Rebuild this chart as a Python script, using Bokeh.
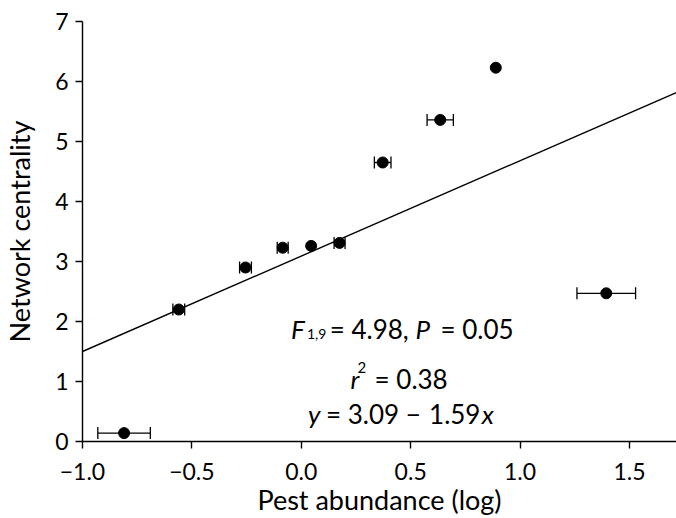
from bokeh.plotting import figure
from bokeh.models import (Range1d, FixedTicker, Whisker, TeeHead, ColumnDataSource,
                          Label, CustomJSTickFormatter)
from bokeh.embed import file_html
from bokeh.resources import INLINE

# ---- data ----
pest_abundance = [-0.81, -0.56, -0.255, -0.085, 0.045, 0.175, 0.372, 0.635, 0.889, 1.394]
centrality     = [0.14, 2.20, 2.90, 3.23, 3.26, 3.31, 4.65, 5.36, 6.23, 2.47]
x_error        = [0.12, 0.027, 0.027, 0.025, 0.0, 0.025, 0.038, 0.06, 0.0, 0.134]
y_error        = [0.0, 0.0, 0.0, 0.0, 0.06, 0.05, 0.0, 0.0, 0.06, 0.0]
fit_intercept = 3.09
fit_slope = 1.59
x_ticks = [-1.0, -0.5, 0.0, 0.5, 1.0, 1.5]
y_ticks = [0, 1, 2, 3, 4, 5, 6, 7]
x_title = "Pest abundance (log)"
y_title = "Network centrality"

FONT = "Lato"
X0, X1 = -1.0, 1.715
Y0, Y1 = 0.0, 7.0

p = figure(width=676, height=518, output_backend="svg", toolbar_location=None,
           x_range=Range1d(X0, X1), y_range=Range1d(Y0, Y1),
           min_border_left=81, min_border_right=0, min_border_top=21,
           min_border_bottom=76)
p.outline_line_color = None
p.grid.visible = False
p.background_fill_color = "white"
p.border_fill_color = "white"

for ax in (p.xaxis[0], p.yaxis[0]):
    ax.axis_line_color = "black"
    ax.axis_line_width = 1.4
    ax.major_tick_line_color = "black"
    ax.major_tick_line_width = 1.4
    ax.major_tick_out = 7
    ax.major_tick_in = 0
    ax.minor_tick_line_color = None
    ax.major_label_text_font = FONT
    ax.major_label_text_font_size = "23px"
    ax.major_label_text_color = "black"
    ax.axis_label_text_font = FONT
    ax.axis_label_text_font_size = "27px"
    ax.axis_label_text_font_style = "normal"
    ax.axis_label_text_color = "black"

p.xaxis.ticker = FixedTicker(ticks=x_ticks)
p.xaxis.formatter = CustomJSTickFormatter(
    code="return tick < 0 ? '\u2212' + (-tick).toFixed(1) : tick.toFixed(1);")
p.xaxis.major_label_standoff = 14
p.xaxis.axis_label = x_title
p.xaxis.axis_label_standoff = 0

p.yaxis.ticker = FixedTicker(ticks=y_ticks)
p.yaxis.formatter = CustomJSTickFormatter(code="return tick.toFixed(0);")
p.yaxis.major_label_standoff = 7
p.yaxis.axis_label = y_title
p.yaxis.axis_label_standoff = 16

# regression line
line_x = [X0, X1]
line_y = [fit_intercept + fit_slope * v for v in line_x]
p.line(line_x, line_y, line_color="black", line_width=1.4)

# horizontal error bars
xs = [v for v, e in zip(pest_abundance, x_error) if e > 0]
ys = [v for v, e in zip(centrality, x_error) if e > 0]
xe = [e for e in x_error if e > 0]
src_x = ColumnDataSource(dict(y=ys, lo=[a - e for a, e in zip(xs, xe)],
                              hi=[a + e for a, e in zip(xs, xe)]))
wx = Whisker(source=src_x, base="y", lower="lo", upper="hi", dimension="width",
             line_color="black", line_width=1.3,
             upper_head=TeeHead(size=12, line_color="black", line_width=1.3),
             lower_head=TeeHead(size=12, line_color="black", line_width=1.3))
wx.level = "underlay"
p.add_layout(wx)

# vertical error bars
xv = [v for v, e in zip(pest_abundance, y_error) if e > 0]
yv = [v for v, e in zip(centrality, y_error) if e > 0]
ye = [e for e in y_error if e > 0]
src_y = ColumnDataSource(dict(x=xv, lo=[a - e for a, e in zip(yv, ye)],
                              hi=[a + e for a, e in zip(yv, ye)]))
wy = Whisker(source=src_y, base="x", lower="lo", upper="hi", dimension="height",
             line_color="black", line_width=1.3,
             upper_head=TeeHead(size=5, line_color="black", line_width=1.3),
             lower_head=TeeHead(size=5, line_color="black", line_width=1.3))
wy.level = "underlay"
p.add_layout(wy)

p.scatter(pest_abundance, centrality, size=11, fill_color="black", line_color="black")

# statistics text
def lab(x, y, text, size="26px", italic=False):
    p.add_layout(Label(x=x, y=y, text=text, text_font=FONT, text_font_size=size,
                       text_font_style="italic" if italic else "normal",
                       text_color="black", text_align="left",
                       text_baseline="alphabetic"))

# line 1: F(1,9) = 4.98, P = 0.05
lab(-0.047, 1.875, "F", italic=True)
lab(0.026, 1.792, "1,9", size="14px")
lab(0.130, 1.875, "= 4.98,")
lab(0.522, 1.875, "P", italic=True)
lab(0.636, 1.875, "= 0.05")

# line 2: r^2 = 0.38
lab(0.225, 1.043, "r", italic=True)
lab(0.257, 1.226, "2", size="15px")
lab(0.335, 1.043, "= 0.38")

# line 3: y = 3.09 − 1.59x
lab(0.031, 0.456, "y", italic=True)
lab(0.113, 0.456, "= 3.09")
lab(0.478, 0.456, "\u2212")
lab(0.584, 0.456, "1.59")
lab(0.825, 0.456, "x", italic=True)

open("out.html", "w").write(file_html(p, INLINE))
